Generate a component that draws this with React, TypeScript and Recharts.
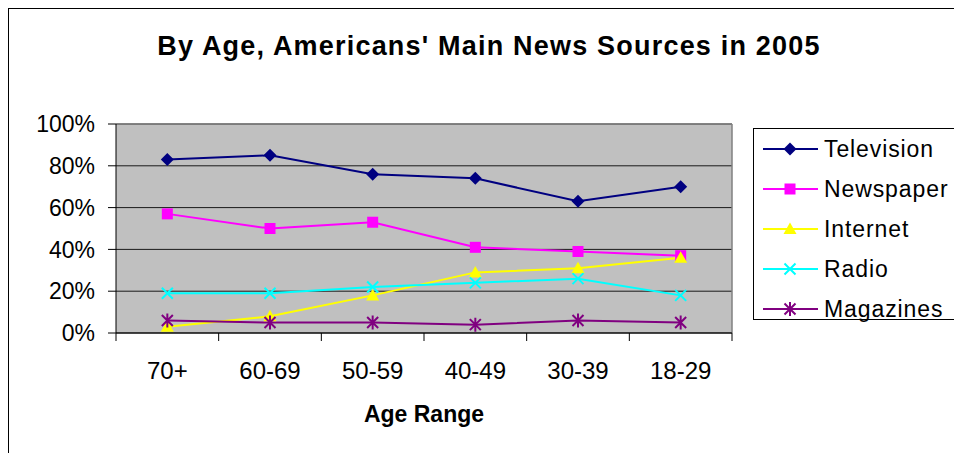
import { LineChart, Line, XAxis, YAxis, CartesianGrid, ReferenceLine } from "recharts";

const ageRanges = ["70+", "60-69", "50-59", "40-49", "30-39", "18-29"];
const television = [83, 85, 76, 74, 63, 70];
const newspaper = [57, 50, 53, 41, 39, 37];
const internet = [3, 8, 18, 29, 31, 36];
const radio = [19, 19, 22, 24, 26, 18];
const magazines = [6, 5, 5, 4, 6, 5];
const yTicks = [0, 20, 40, 60, 80, 100];

const FONT = "'Liberation Sans', Arial, sans-serif";

type DotProps = { cx?: number; cy?: number; color: string };

// Excel-ish marker shapes
function Marker({ cx = 0, cy = 0, color, shape }: DotProps & { shape: string }) {
  if (shape === "diamond")
    return <path d={`M${cx},${cy - 6.5}L${cx + 6.5},${cy}L${cx},${cy + 6.5}L${cx - 6.5},${cy}Z`} fill={color} />;
  if (shape === "square") return <rect x={cx - 5.5} y={cy - 5.5} width={11} height={11} fill={color} />;
  if (shape === "triangle")
    return <path d={`M${cx},${cy - 6.5}L${cx + 6.5},${cy + 5}L${cx - 6.5},${cy + 5}Z`} fill={color} />;
  if (shape === "x")
    return (
      <path d={`M${cx - 5.5},${cy - 5.5}L${cx + 5.5},${cy + 5.5}M${cx + 5.5},${cy - 5.5}L${cx - 5.5},${cy + 5.5}`} stroke={color} strokeWidth={2} />
    );
  return (
    <path
      d={`M${cx - 5.5},${cy - 5.5}L${cx + 5.5},${cy + 5.5}M${cx + 5.5},${cy - 5.5}L${cx - 5.5},${cy + 5.5}M${cx},${cy - 7}L${cx},${cy + 7}`}
      stroke={color}
      strokeWidth={2}
    />
  );
}

const series = [
  { key: "television", name: "Television", values: television, color: "#000080", shape: "diamond" },
  { key: "newspaper", name: "Newspaper", values: newspaper, color: "#FF00FF", shape: "square" },
  { key: "internet", name: "Internet", values: internet, color: "#FFFF00", shape: "triangle" },
  { key: "radio", name: "Radio", values: radio, color: "#00FFFF", shape: "x" },
  { key: "magazines", name: "Magazines", values: magazines, color: "#800080", shape: "asterisk" },
];

// categories sit between the tick marks, like Excel does it
const data = ageRanges.map((age, i) => {
  const row: Record<string, number | string> = { age, x: i + 0.5 };
  series.forEach((s) => (row[s.key] = s.values[i]));
  return row;
});
const xTicks = [0, 0.5, 1, 1.5, 2, 2.5, 3, 3.5, 4, 4.5, 5, 5.5, 6];

function AgeTick(props: any) {
  const { x, y, payload } = props;
  const v = payload.value as number;
  if (Number.isInteger(v)) return <line x1={x} x2={x} y1={y} y2={y + 8} stroke="#000" />;
  return (
    <text x={x} y={y + 46} textAnchor="middle" fill="#000" fontSize={24} fontFamily={FONT}>
      {ageRanges[Math.floor(v)]}
    </text>
  );
}

function LegendBox() {
  return (
    <div
      style={{
        position: "absolute",
        left: 744,
        top: 119,
        width: 240,
        height: 192,
        boxSizing: "border-box",
        border: "1px solid #000",
        background: "#fff",
        fontFamily: FONT,
        fontSize: 23,
        letterSpacing: 0.9,
      }}
    >
      {series.map((s) => (
        <div key={s.key} style={{ height: 40, display: "flex", alignItems: "center" }}>
          <svg width={70} height={20} style={{ display: "block", flex: "none" }}>
            <line x1={9} x2={64} y1={10} y2={10} stroke={s.color} strokeWidth={2} />
            <Marker cx={36} cy={10} color={s.color} shape={s.shape} />
          </svg>
          <span style={{ color: "#000", whiteSpace: "nowrap" }}>{s.name}</span>
        </div>
      ))}
    </div>
  );
}

export default function App() {
  return (
    <div
      style={{
        position: "fixed",
        left: 8,
        top: 8,
        width: 945,
        height: 444,
        borderLeft: "1px solid #000",
        borderTop: "1px solid #000",
        overflow: "hidden",
        background: "#fff",
      }}
    >
      <div
        style={{
          position: "absolute",
          left: 130,
          top: 21,
          width: 700,
          textAlign: "center",
          fontFamily: FONT,
          fontWeight: "bold",
          fontSize: 27,
          letterSpacing: 1.2,
          lineHeight: "32px",
          color: "#000",
          whiteSpace: "nowrap",
        }}
      >
        By Age, Americans' Main News Sources in 2005
      </div>
      <LineChart width={945} height={444} data={data} margin={{ top: 115, right: 222, bottom: 0, left: 0 }}>
        <CartesianGrid vertical={false} fill="#C0C0C0" stroke="#1a1a1a" fillOpacity={1} />
        <XAxis
          dataKey="x"
          type="number"
          domain={[0, 6]}
          ticks={xTicks}
          interval={0}
          height={120}
          tickLine={false}
          tickSize={0}
          tickMargin={0}
          axisLine={{ stroke: "#000" }}
          tick={<AgeTick />}
          label={{
            value: "Age Range",
            position: "insideBottom",
            offset: 31,
            fill: "#000",
            fontSize: 23,
            fontWeight: "bold",
            fontFamily: FONT,
          }}
        />
        <YAxis
          type="number"
          domain={[0, 100]}
          ticks={yTicks}
          width={107}
          tickSize={8}
          tickMargin={13}
          axisLine={{ stroke: "#000" }}
          tickLine={{ stroke: "#000" }}
          tickFormatter={(v: number) => `${v}%`}
          tick={{ fill: "#000", fontSize: 23, fontFamily: FONT }}
        />
        <ReferenceLine y={100} stroke="#808080" strokeWidth={1.5} />
        <ReferenceLine x={6} stroke="#808080" strokeWidth={1.5} />
        {series.map((s) => (
          <Line
            key={s.key}
            dataKey={s.key}
            name={s.name}
            stroke={s.color}
            strokeWidth={2}
            isAnimationActive={false}
            dot={(p: any) => <Marker key={`${s.key}-${p.index}`} cx={p.cx} cy={p.cy} color={s.color} shape={s.shape} />}
            activeDot={false}
          />
        ))}
      </LineChart>
      <LegendBox />
    </div>
  );
}
